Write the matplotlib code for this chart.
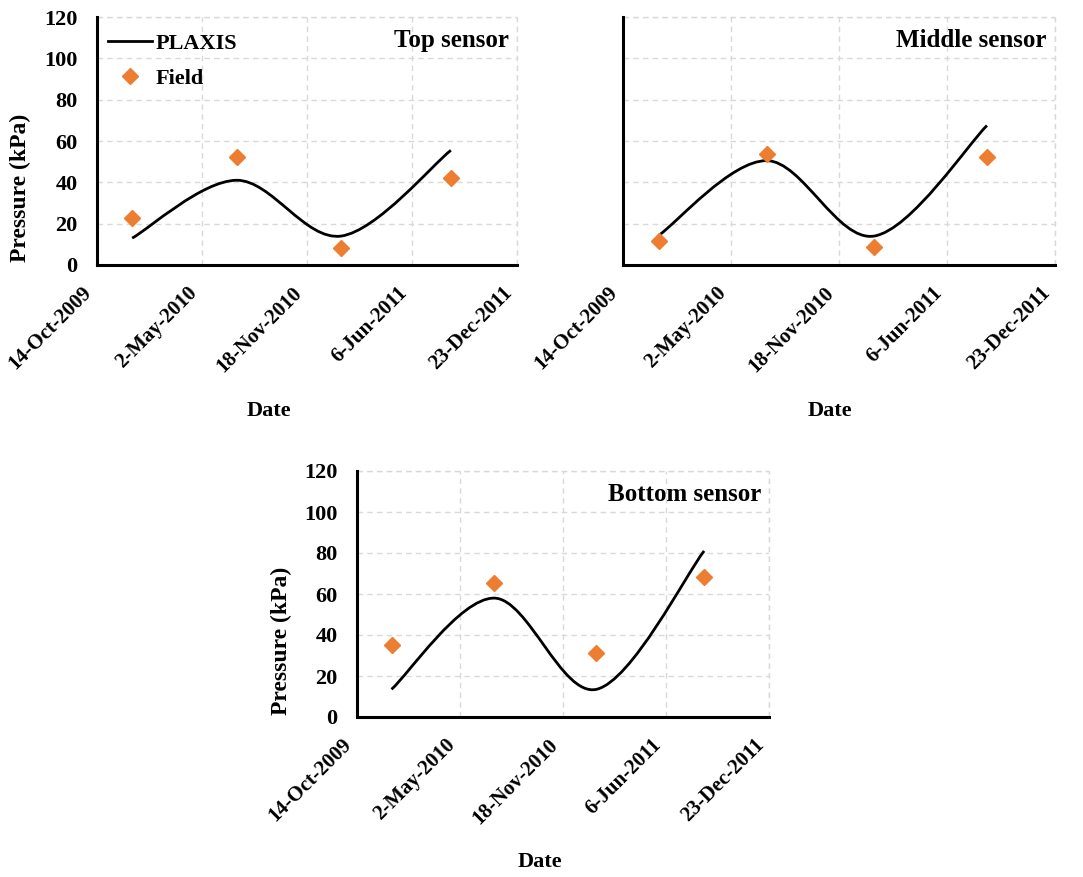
import matplotlib
matplotlib.use('Agg')
import matplotlib.pyplot as plt
import matplotlib.dates as mdates
import matplotlib.transforms as mtransforms
from matplotlib.path import Path
from matplotlib.patches import PathPatch
from matplotlib.lines import Line2D
import numpy as np
import datetime as dt

plt.rcParams['font.family'] = ['Liberation Serif', 'DejaVu Serif']
plt.rcParams['font.weight'] = 'bold'

dates = ['2009-12-20', '2010-07-07', '2011-01-22', '2011-08-19']
tick_dates = ['2009-10-14', '2010-05-02', '2010-11-18', '2011-06-06', '2011-12-23']
tick_labels = ['14-Oct-2009', '2-May-2010', '18-Nov-2010', '6-Jun-2011', '23-Dec-2011']

plaxis_top = [13, 41, 14, 55.5]
field_top = [22.7, 52.3, 8.2, 42]
plaxis_mid = [14.5, 50.5, 14, 67.5]
field_mid = [11.8, 53.5, 8.5, 52.1]
plaxis_bot = [13.5, 58, 13.5, 81]
field_bot = [35, 65.4, 31.2, 68.2]

orange = '#ED7D31'
W, H = 1083, 877


def todate(s):
    return dt.datetime.strptime(s, '%Y-%m-%d')


def smooth_path(x, y):
    # excel style smoothed line: bezier segments
    p = np.column_stack([x, y])
    n = len(p)
    verts = [p[0]]
    codes = [Path.MOVETO]
    for i in range(n - 1):
        p0 = p[i - 1] if i > 0 else p[i]
        p1 = p[i]
        p2 = p[i + 1]
        p3 = p[i + 2] if i + 2 < n else p[i + 1]
        c1 = p1 + (p2 - p0) / 6.0
        c2 = p2 - (p3 - p1) / 6.0
        verts += [c1, c2, p2]
        codes += [Path.CURVE4] * 3
    return Path(verts, codes)


def panel(rect, plaxis, field, title, yticks=True, legend=False, ylab=True, xlab_x=0.45):
    l, t, r, b = rect
    ax = fig.add_axes([l / W, 1 - b / H, (r - l) / W, (b - t) / H])
    x = mdates.date2num([todate(d) for d in dates])
    ax.add_patch(PathPatch(smooth_path(x, plaxis), fill=False, ec='black', lw=2.0, zorder=3))
    ax.plot(x, field, 'D', color=orange, ms=8, zorder=4)
    ticks = mdates.date2num([todate(d) for d in tick_dates])
    ax.set_xlim(ticks[0], ticks[-1])
    ax.set_ylim(0, 120)
    ax.set_yticks(range(0, 121, 20))
    ax.set_xticks(ticks)
    ax.set_xticklabels([])
    # date labels, rotated, ending just left of the gridline
    shift = mtransforms.ScaledTranslation(-0.08, -0.25, fig.dpi_scale_trans)
    for tk, lab in zip(ticks, tick_labels):
        ax.text(tk, 0, lab, transform=ax.get_xaxis_transform() + shift, rotation=45,
                ha='right', va='center', rotation_mode='anchor', fontsize=15, fontweight='bold')
    ax.tick_params(axis='both', length=0, labelsize=16)
    ax.tick_params(axis='y', pad=14)
    if not yticks:
        ax.set_yticklabels([])
    ax.grid(True, color='#D9D9D9', ls=(0, (4, 3)), lw=1.0)
    ax.set_axisbelow(True)
    for s in ['top', 'right']:
        ax.spines[s].set_visible(False)
    for s in ['left', 'bottom']:
        ax.spines[s].set_linewidth(2.2)
        ax.spines[s].set_zorder(5)
    # gridlines on the outer edges
    ax.axhline(120, color='#D9D9D9', ls=(0, (4, 3)), lw=1.0, zorder=0.5, clip_on=False)
    ax.axvline(ticks[-1], color='#D9D9D9', ls=(0, (4, 3)), lw=1.0, zorder=0.5, clip_on=False)
    ax.text(0.98, 0.905, title, transform=ax.transAxes, ha='right', va='center',
            fontsize=18, fontweight='bold')
    if ylab:
        ax.set_ylabel('Pressure (kPa)', fontsize=17, fontweight='bold', va='center')
        ax.yaxis.set_label_coords(-0.183, 0.31)
    ax.set_xlabel('Date', fontsize=16, fontweight='bold')
    ax.xaxis.set_label_coords(xlab_x, -0.548)
    if legend:
        handles = [Line2D([], [], color='black', lw=2.0),
                   Line2D([], [], ls='', marker='D', color=orange, ms=8)]
        ax.legend(handles, ['PLAXIS', 'Field'], loc='upper left', bbox_to_anchor=(0.025, 0.935),
                  frameon=False, borderpad=0, borderaxespad=0, handlelength=2.0,
                  handletextpad=0.15, labelspacing=0.65, prop={'size': 16, 'weight': 'bold'})
    return ax


fig = plt.figure(figsize=(W / 100, H / 100), dpi=100)

panel((97, 17, 517, 265), plaxis_top, field_top, 'Top sensor', legend=True, xlab_x=0.41)
panel((623, 17, 1055, 265), plaxis_mid, field_mid, 'Middle sensor', yticks=False, ylab=False, xlab_x=0.48)
panel((357, 471, 769, 717), plaxis_bot, field_bot, 'Bottom sensor', xlab_x=0.444)

fig.savefig('out.png', dpi=100)
